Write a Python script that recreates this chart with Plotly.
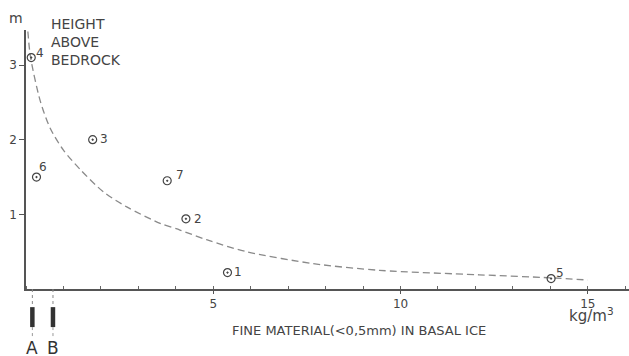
import plotly.graph_objects as go

# Sample points (fine material kg/m3, height above bedrock m)
point_ids = ["1", "2", "3", "4", "5", "6", "7"]
point_x = [5.38, 4.27, 1.78, 0.14, 14.02, 0.28, 3.77]
point_y = [0.22, 0.94, 2.00, 3.10, 0.14, 1.50, 1.45]

# Dashed trend curve
curve_x = [0.05, 0.12, 0.38, 0.65, 1.0, 1.45, 2.07, 2.69, 3.58, 4.11, 4.82, 5.89, 7.67, 9.44, 12.1, 14.0, 15.0]
curve_y = [3.45, 3.11, 2.52, 2.15, 1.86, 1.60, 1.30, 1.10, 0.88, 0.79, 0.66, 0.50, 0.34, 0.25, 0.19, 0.15, 0.12]

# Reference samples A and B on x axis
ref_labels = ["A", "B"]
ref_x = [0.17, 0.72]

x_ticks = [5, 10, 15]
y_ticks = [1, 2, 3]

# label offsets (pixels) for point numbers
label_dx = {"1": 10, "2": 12, "3": 11, "4": 9, "5": 9, "6": 7, "7": 13}
label_dy = {"1": 1, "2": 0, "3": 1, "4": 5, "5": 6, "6": 10, "7": 6}

ink = "#444444"
fnt = "DejaVu Sans"

fig = go.Figure()
fig.add_trace(go.Scatter(
    x=curve_x, y=curve_y, mode="lines",
    line=dict(color="#8a8a8a", width=1.3, dash="7px,4px", shape="spline", smoothing=0.8),
    hoverinfo="skip", showlegend=False))
fig.add_trace(go.Scatter(
    x=point_x, y=point_y, mode="markers",
    marker=dict(symbol="circle-open-dot", size=8, color=ink, line=dict(width=1.2, color=ink)),
    showlegend=False))

annotations = []
for pid, px, py in zip(point_ids, point_x, point_y):
    annotations.append(dict(x=px, y=py, xref="x", yref="y", text=pid, showarrow=False,
                            xanchor="center", yanchor="middle",
                            xshift=label_dx[pid], yshift=label_dy[pid],
                            font=dict(family=fnt, size=12, color=ink)))

shapes = []
for lab, rx in zip(ref_labels, ref_x):
    shapes.append(dict(type="line", xref="x", yref="paper", x0=rx, x1=rx, y0=0, y1=-0.07,
                       line=dict(color="#888", width=1, dash="dot")))
    shapes.append(dict(type="rect", xref="x", yref="paper", x0=rx - 0.06, x1=rx + 0.06,
                       y0=-0.07, y1=-0.147, fillcolor="#333", line=dict(width=0)))
    shapes.append(dict(type="line", xref="x", yref="paper", x0=rx, x1=rx, y0=-0.147, y1=-0.19,
                       line=dict(color="#999", width=1, dash="dot")))
    annotations.append(dict(x=rx, y=-0.228, xref="x", yref="paper", text=lab, showarrow=False,
                            xanchor="center", yanchor="middle",
                            font=dict(family=fnt, size=17, color="#333")))

annotations += [
    dict(x=-0.0158, y=1.046, xref="paper", yref="paper", text="m", showarrow=False,
         xanchor="center", yanchor="middle",
         font=dict(family=fnt, size=14, color=ink)),
    dict(x=0.038, y=1.062, xref="paper", yref="paper", xanchor="left", yanchor="top",
         text="HEIGHT<br>ABOVE<br>BEDROCK", align="left", showarrow=False,
         font=dict(family=fnt, size=14, color=ink)),
    dict(x=0.552, y=-0.162, xref="paper", yref="paper",
         text="FINE MATERIAL(&lt;0,5mm) IN BASAL ICE", showarrow=False,
         xanchor="center", yanchor="middle",
         font=dict(family=fnt, size=13, color=ink)),
    dict(x=0.937, y=-0.102, xref="paper", yref="paper", text="kg/m<sup>3</sup>", showarrow=False,
         xanchor="center", yanchor="middle",
         font=dict(family=fnt, size=15, color=ink)),
]

fig.update_layout(
    width=629, height=356,
    margin=dict(l=26, r=0, t=30, b=67),
    paper_bgcolor="white", plot_bgcolor="white",
    font=dict(family=fnt, color=ink),
    annotations=annotations, shapes=shapes,
    xaxis=dict(range=[0, 16.1], tickvals=x_ticks, ticks="outside", ticklen=3, tickwidth=1,
               tickcolor="#555", showline=True, linecolor="#555", linewidth=1.5,
               showgrid=False, zeroline=False, tickfont=dict(size=12, color=ink),
               minor=dict(dtick=1, ticks="inside", ticklen=3, tickcolor="#666", showgrid=False)),
    yaxis=dict(range=[0, 3.47], tickvals=y_ticks, ticks="outside", ticklen=5, tickwidth=1,
               tickcolor="#555", showline=True, linecolor="#555", linewidth=1.5,
               showgrid=False, zeroline=False, tickfont=dict(size=12, color=ink)),
)

fig.write_html("out.html", config={"displayModeBar": False},
               post_script="document.body.style.margin='0';document.body.style.overflow='hidden';")
